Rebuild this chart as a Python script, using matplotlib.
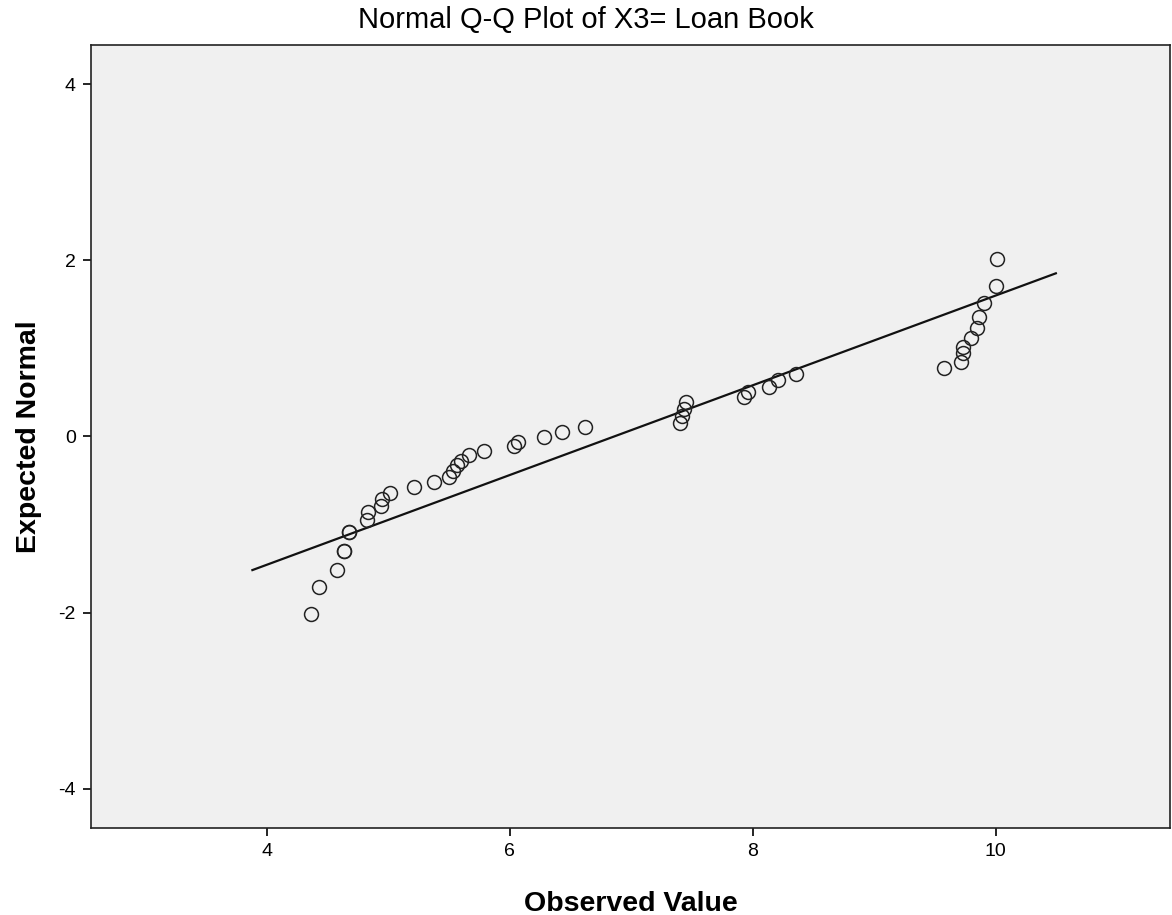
import matplotlib
matplotlib.use("Agg")
import matplotlib.pyplot as plt

plt.rcParams['font.family'] = ['Liberation Sans', 'DejaVu Sans']
plt.rcParams['axes.unicode_minus'] = False

observed = [4.365, 4.427, 4.573, 4.636, 4.636, 4.674, 4.674, 4.825, 4.830, 4.940,
            4.948, 5.014, 5.208, 5.378, 5.501, 5.529, 5.562, 5.598, 5.660, 5.784,
            6.036, 6.071, 6.282, 6.433, 6.619, 7.398, 7.419, 7.433, 7.452, 7.932,
            7.959, 8.132, 8.208, 8.359, 9.578, 9.715, 9.734, 9.734, 9.798, 9.844,
            9.866, 9.907, 10.003, 10.008]
expected = [-2.021, -1.714, -1.518, -1.299, -1.299, -1.083, -1.083, -0.950, -0.856, -0.791,
            -0.712, -0.640, -0.579, -0.519, -0.459, -0.391, -0.326, -0.277, -0.216, -0.167,
            -0.110, -0.061, -0.005, 0.045, 0.102, 0.148, 0.230, 0.307, 0.393, 0.450,
            0.506, 0.563, 0.639, 0.704, 0.779, 0.844, 0.942, 1.017, 1.113, 1.226,
            1.351, 1.510, 1.710, 2.013]

# reference line from the normal fit
line_x = [3.880, 10.496]
line_y = [-1.518, 1.851]

x_ticks = [4, 6, 8, 10]
y_ticks = [-4, -2, 0, 2, 4]

fig = plt.figure(figsize=(11.72, 9.15), dpi=100)
ax = fig.add_axes([91 / 1172, 87 / 915, 1079 / 1172, 783 / 915])
ax.set_facecolor('#f0f0f0')

ax.plot(line_x, line_y, color='#111111', lw=1.6, zorder=2)
ax.plot(observed, expected, 'o', ms=10, mfc='none', mec='#222222', mew=1.1, zorder=3)

ax.set_xlim(2.551, 11.436)
ax.set_ylim(-4.446, 4.443)
ax.set_xticks(x_ticks)
ax.set_yticks(y_ticks)
ax.tick_params(direction='out', length=6, width=1.2, labelsize=14, colors='black', pad=5)

for s in ax.spines.values():
    s.set_color('#222222')
    s.set_linewidth(1.2)

ax.set_xlabel('Observed Value', fontsize=20.5, fontweight='bold', labelpad=22)
ax.set_ylabel('Expected Normal', fontsize=20.5, fontweight='bold', labelpad=12)
fig.suptitle('Normal Q-Q Plot of X3= Loan Book', fontsize=21, y=0.993, va='top')

fig.savefig('out.png', dpi=100)
